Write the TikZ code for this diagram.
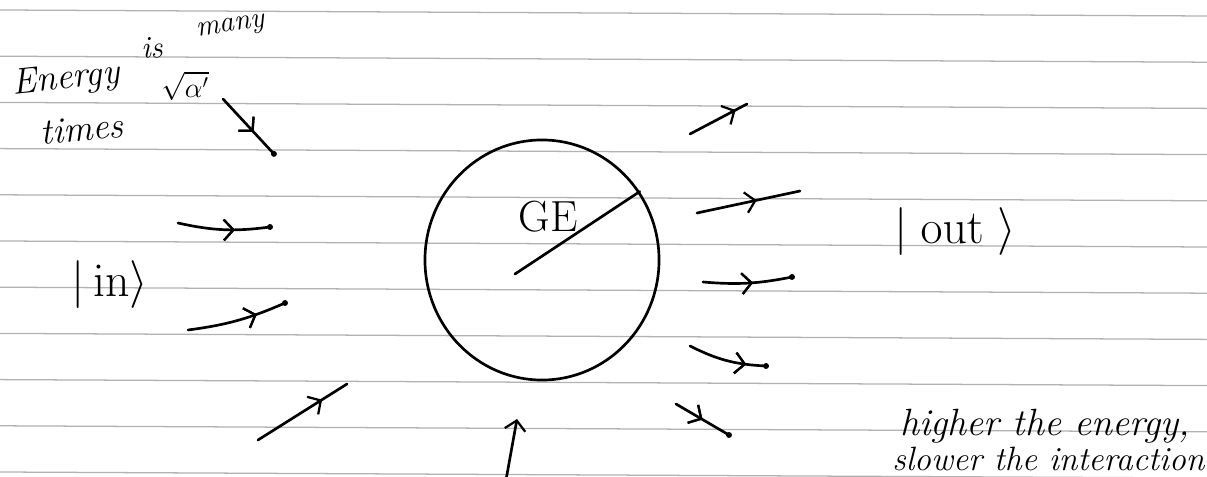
\RequirePackage{fix-cm}
\documentclass[tikz,border=0pt]{standalone}
\usetikzlibrary{arrows.meta,decorations.markings,shapes.geometric}
\begin{document}
\begin{tikzpicture}[x=0.025cm,y=-0.025cm,
  ink/.style={line width=1.9pt,line cap=round,line join=round,black},
  rule/.style={line width=0.9pt,black!30},
  midarr/.style={postaction={decorate},decoration={markings,
     mark=at position #1 with {\arrow{Straight Barb[length=2.4mm,width=5.2mm,line width=1.6pt]}}}},
  dotend/.style={postaction={decorate},decoration={markings,
     mark=at position 1 with {\fill circle (2pt);}}},
  hand/.style={font=\itshape\fontsize{26}{28}\selectfont,inner sep=0pt},
  big/.style={font=\fontsize{34}{36}\selectfont,inner sep=0pt}]
\useasboundingbox (0,0) rectangle (1207,477);
\clip (0,0) rectangle (1207,477);
\fill[white] (0,0) rectangle (1207,477);
% ruled lines
\foreach \k in {0,...,10}{
  \draw[rule] (0,{10+46.2*\k}) -- (1207,{16+46.2*\k});
}
% top-left note
\node[hand,rotate=6] (t1) at (66,80) {Energy};
\node[hand,font=\itshape\fontsize{22}{24}\selectfont,rotate=6] (t2) at (152,48) {is};
\node[hand,font=\itshape\fontsize{21}{23}\selectfont,rotate=8] (t3) at (231,28) {many};
\node[hand,font=\itshape\fontsize{26}{28}\selectfont,rotate=5] (t4) at (82,129) {times};
\node[inner sep=0pt,font=\fontsize{20}{22}\selectfont] (t5) at (185,86) {$\sqrt{\alpha'}$};
% kets
\node[big] (kin) at (110,285) {$|\,\mathrm{in}\rangle$};
\node[big] (kout) at (955,232) {$|\;\mathrm{out}\;\rangle$};
% remark
\node[hand,anchor=base west,font=\itshape\fontsize{27}{29}\selectfont] (r1) at (900,435) {higher the energy,};
\node[hand,anchor=base west,font=\itshape\fontsize{24}{26}\selectfont] (r2) at (892,470) {slower the interaction};
% scattering region
\node[ink,draw,ellipse,minimum width=5.85cm,minimum height=6cm] (ge) at (542,260) {};
\node[big,font=\fontsize{31}{33}\selectfont] (gel) at (548,217) {GE};
\coordinate (rc) at (515,274);
\draw[ink] (rc) -- (ge.35);
% incoming lines
\coordinate (a1s) at (223,99);  \coordinate (a1e) at (274,154);
\coordinate (a2s) at (178,223); \coordinate (a2e) at (270,227);
\coordinate (a3s) at (188,330); \coordinate (a3e) at (285,303);
\coordinate (a4s) at (258,440); \coordinate (a4e) at (347,384);
\draw[ink,midarr=0.6,dotend] (a1s) -- (a1e);
\draw[ink,midarr=0.62,dotend] (a2s) to[bend right=10] (a2e);
\draw[ink,midarr=0.7,dotend] (a3s) to[bend right=8] (a3e);
\draw[ink,midarr=0.72] (a4s) -- (a4e);
% outgoing lines
\coordinate (o1s) at (690,134); \coordinate (o1e) at (747,104);
\coordinate (o2s) at (697,213); \coordinate (o2e) at (800,191);
\coordinate (o3s) at (703,282); \coordinate (o3e) at (792,277);
\coordinate (o4s) at (690,346); \coordinate (o4e) at (766,366);
\coordinate (o5s) at (676,404); \coordinate (o5e) at (729,435);
\draw[ink,midarr=0.8] (o1s) -- (o1e);
\draw[ink,midarr=0.58] (o2s) -- (o2e);
\draw[ink,midarr=0.56,dotend] (o3s) to[bend right=8] (o3e);
\draw[ink,midarr=0.75,dotend] (o4s) to[bend right=12] (o4e);
\draw[ink,midarr=0.5,dotend] (o5s) -- (o5e);
% bottom arrow
\coordinate (b0) at (506,480); \coordinate (b1) at (517,419);
\draw[ink,-{Straight Barb[length=2.4mm,width=5.2mm,line width=1.6pt]}] (b0) -- (b1);
\end{tikzpicture}
\end{document}
